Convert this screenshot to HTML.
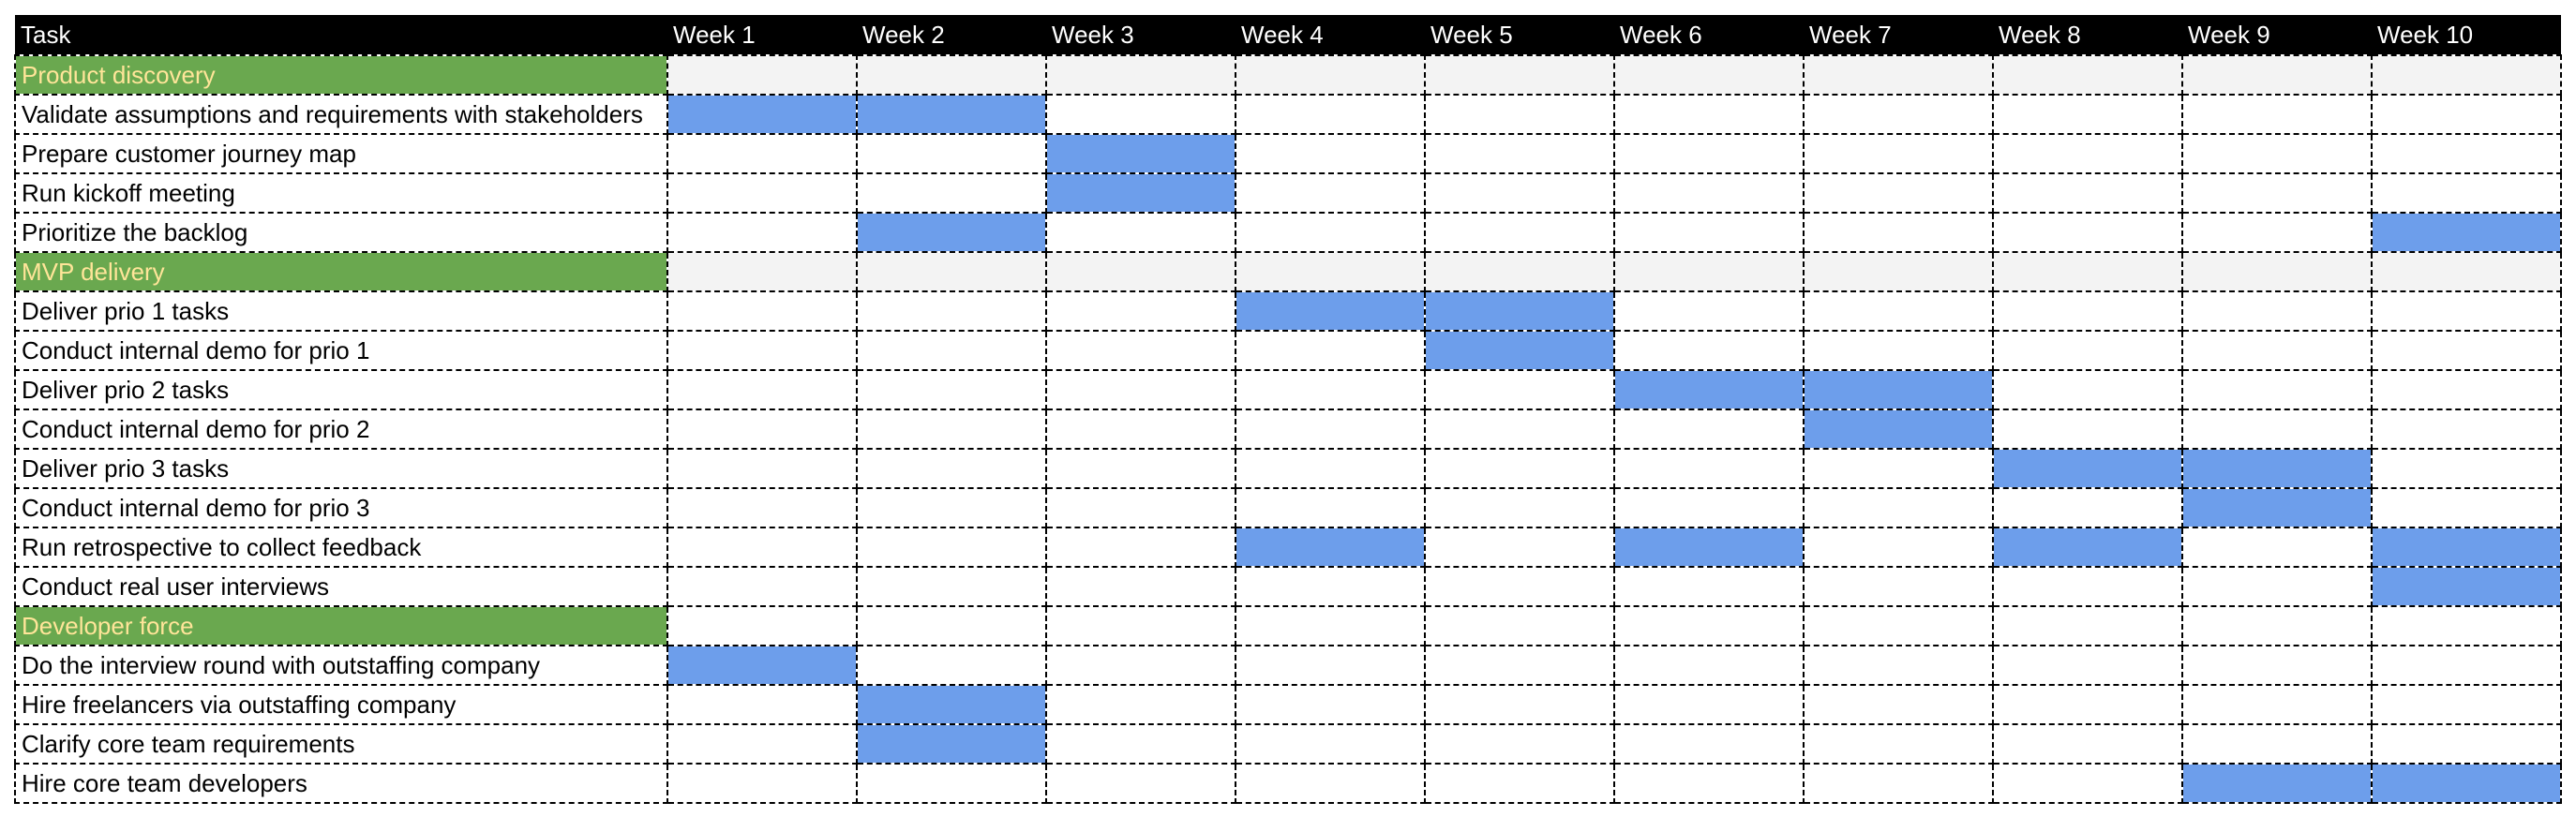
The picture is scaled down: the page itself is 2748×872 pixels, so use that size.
<!DOCTYPE html>
<html><head><meta charset="utf-8"><style>
html,body{margin:0;padding:0;background:#fff;width:2748px;height:872px;overflow:hidden}
table{position:absolute;left:15px;top:16px;width:2716px;border-collapse:collapse;table-layout:fixed;font-family:"Liberation Sans",Arial,sans-serif;font-size:26px}
td{height:40px;border:2px dashed #000;padding:0 0 0 6px;white-space:nowrap;overflow:hidden;box-sizing:border-box;line-height:38px}
tr{height:42px}
tr.h td{background:#000;color:#fff;height:43px;border:none}
tr.g td{background:#f3f3f3}
tr.g td:first-child,tr.d td:first-child{background:#6aa84f;color:#ffe599}
td.b{background:#6d9eeb}
</style></head><body>
<table>
<colgroup><col style="width:696px"><col style="width:202px"><col style="width:202px"><col style="width:202px"><col style="width:202px"><col style="width:202px"><col style="width:202px"><col style="width:202px"><col style="width:202px"><col style="width:202px"><col style="width:202px"></colgroup>
<tr class="h"><td>Task</td><td>Week 1</td><td>Week 2</td><td>Week 3</td><td>Week 4</td><td>Week 5</td><td>Week 6</td><td>Week 7</td><td>Week 8</td><td>Week 9</td><td>Week 10</td></tr>
<tr class="g"><td>Product discovery</td><td></td><td></td><td></td><td></td><td></td><td></td><td></td><td></td><td></td><td></td></tr>
<tr><td>Validate assumptions and requirements with stakeholders</td><td class="b"></td><td class="b"></td><td></td><td></td><td></td><td></td><td></td><td></td><td></td><td></td></tr>
<tr><td>Prepare customer journey map</td><td></td><td></td><td class="b"></td><td></td><td></td><td></td><td></td><td></td><td></td><td></td></tr>
<tr><td>Run kickoff meeting</td><td></td><td></td><td class="b"></td><td></td><td></td><td></td><td></td><td></td><td></td><td></td></tr>
<tr><td>Prioritize the backlog</td><td></td><td class="b"></td><td></td><td></td><td></td><td></td><td></td><td></td><td></td><td class="b"></td></tr>
<tr class="g"><td>MVP delivery</td><td></td><td></td><td></td><td></td><td></td><td></td><td></td><td></td><td></td><td></td></tr>
<tr><td>Deliver prio 1 tasks</td><td></td><td></td><td></td><td class="b"></td><td class="b"></td><td></td><td></td><td></td><td></td><td></td></tr>
<tr><td>Conduct internal demo for prio 1</td><td></td><td></td><td></td><td></td><td class="b"></td><td></td><td></td><td></td><td></td><td></td></tr>
<tr><td>Deliver prio 2 tasks</td><td></td><td></td><td></td><td></td><td></td><td class="b"></td><td class="b"></td><td></td><td></td><td></td></tr>
<tr><td>Conduct internal demo for prio 2</td><td></td><td></td><td></td><td></td><td></td><td></td><td class="b"></td><td></td><td></td><td></td></tr>
<tr><td>Deliver prio 3 tasks</td><td></td><td></td><td></td><td></td><td></td><td></td><td></td><td class="b"></td><td class="b"></td><td></td></tr>
<tr><td>Conduct internal demo for prio 3</td><td></td><td></td><td></td><td></td><td></td><td></td><td></td><td></td><td class="b"></td><td></td></tr>
<tr><td>Run retrospective to collect feedback</td><td></td><td></td><td></td><td class="b"></td><td></td><td class="b"></td><td></td><td class="b"></td><td></td><td class="b"></td></tr>
<tr><td>Conduct real user interviews</td><td></td><td></td><td></td><td></td><td></td><td></td><td></td><td></td><td></td><td class="b"></td></tr>
<tr class="d"><td>Developer force</td><td></td><td></td><td></td><td></td><td></td><td></td><td></td><td></td><td></td><td></td></tr>
<tr><td>Do the interview round with outstaffing company</td><td class="b"></td><td></td><td></td><td></td><td></td><td></td><td></td><td></td><td></td><td></td></tr>
<tr><td>Hire freelancers via outstaffing company</td><td></td><td class="b"></td><td></td><td></td><td></td><td></td><td></td><td></td><td></td><td></td></tr>
<tr><td>Clarify core team requirements</td><td></td><td class="b"></td><td></td><td></td><td></td><td></td><td></td><td></td><td></td><td></td></tr>
<tr><td>Hire core team developers</td><td></td><td></td><td></td><td></td><td></td><td></td><td></td><td></td><td class="b"></td><td class="b"></td></tr>
</table>
</body></html>
